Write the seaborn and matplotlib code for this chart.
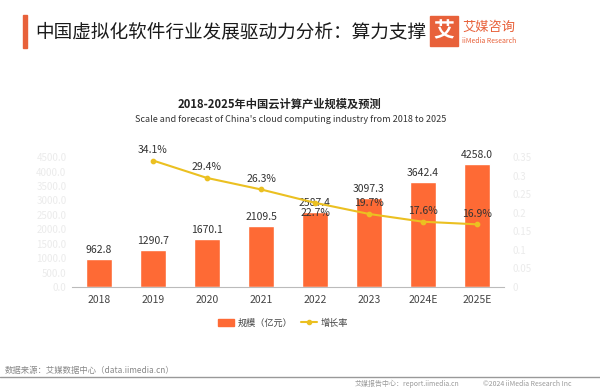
import pandas as pd
import seaborn as sns
import matplotlib.pyplot as plt
from matplotlib.patches import Patch, Rectangle
from matplotlib.lines import Line2D

years = ['2018', '2019', '2020', '2021', '2022', '2023', '2024E', '2025E']
scale = [962.8, 1290.7, 1670.1, 2109.5, 2587.4, 3097.3, 3642.4, 4258.0]
growth = [None, 0.341, 0.294, 0.263, 0.227, 0.197, 0.176, 0.169]

orange = '#FE6A35'
yellow = '#EBC021'
faint = '#ebebeb'

sns.set_style('white')
plt.rcParams['font.family'] = ['Noto Sans CJK SC', 'DejaVu Sans']

data = pd.DataFrame({'year': years, 'scale': scale, 'growth': growth})

fig = plt.figure(figsize=(6, 3.9), dpi=100)
ax = fig.add_axes([0.12, 0.264, 0.72, 0.333])

sns.barplot(data=data, x='year', y='scale', order=years, color=orange,
            width=0.48, saturation=1, ax=ax)
ax.set_ylim(0, 4500)
ax.set_yticks([i * 500 for i in range(10)])
ax.set_yticklabels([f'{i * 500:.1f}' for i in range(10)], color=faint, fontsize=7)
ax.tick_params(axis='x', labelsize=7.5, colors='#444444', length=0, pad=6)
ax.tick_params(axis='y', length=0, pad=4)
ax.set_xlabel('')
ax.set_ylabel('')
for s in ['top', 'right', 'left']:
    ax.spines[s].set_visible(False)
ax.spines['bottom'].set_color('#bbbbbb')

for i, v in enumerate(scale):
    ax.text(i, v + 140, f'{v:.1f}', ha='center', va='bottom', fontsize=7.5, color='#333333')

ax2 = ax.twinx()
line_data = data.dropna()
sns.pointplot(data=line_data, x='year', y='growth', order=years, color=yellow,
              markers='o', markersize=3, linewidth=1.5, errorbar=None, ax=ax2)
ax2.set_ylim(0, 0.35)
ax2.set_yticks([0, 0.05, 0.1, 0.15, 0.2, 0.25, 0.3, 0.35])
ax2.set_yticklabels(['0', '0.05', '0.1', '0.15', '0.2', '0.25', '0.3', '0.35'],
                    color=faint, fontsize=7)
ax2.tick_params(axis='y', length=0, pad=6)
ax2.set_ylabel('')
ax2.set_xlabel('')
for s in ax2.spines.values():
    s.set_visible(False)
ax2.set_xlim(-0.5, 7.5)

for i, g in enumerate(growth):
    if g is None:
        continue
    # 2022 label sits under the point to avoid the bar label
    if years[i] == '2022':
        ax2.annotate(f'{g * 100:.1f}%', (i, g), xytext=(0, -4), textcoords='offset points',
                     ha='center', va='top', fontsize=7.5, color='#333333')
    else:
        ax2.annotate(f'{g * 100:.1f}%', (i, g), xytext=(0, 4), textcoords='offset points',
                     ha='center', va='bottom', fontsize=7.5, color='#333333')

handles = [Patch(color=orange), Line2D([0], [0], color=yellow, marker='o', markersize=3, lw=1.5)]
fig.legend(handles, ['规模（亿元）', '增长率'], loc='center', bbox_to_anchor=(283 / 600, 0.172),
           ncol=2, frameon=False, fontsize=6.6, handlelength=1.7, handleheight=0.8,
           handletextpad=0.4, columnspacing=1.0, labelcolor='#444444')

# chart titles
fig.text(279 / 600, 1 - 104 / 390, '2018-2025年中国云计算产业规模及预测', ha='center', va='center',
         fontsize=8.1, fontweight='bold', color='#222222')
fig.text(291 / 600, 1 - 120 / 390, "Scale and forecast of China's cloud computing industry from 2018 to 2025",
         ha='center', va='center', fontsize=6.5, color='#333333')

# header
fig.patches.append(Rectangle((23 / 600, 1 - 48 / 390), 4 / 600, 33 / 390, transform=fig.transFigure,
                             color='#E8613A', zorder=3))
fig.text(35 / 600, 1 - 32 / 390, '中国虚拟化软件行业发展驱动力分析：算力支撑', ha='left', va='center',
         fontsize=13.4, fontweight='medium', color='#1a1a1a')
fig.patches.append(Rectangle((430 / 600, 1 - 46 / 390), 28 / 600, 30 / 390, transform=fig.transFigure,
                             color='#E8613A', zorder=3))
fig.text(444 / 600, 1 - 31 / 390, '艾', ha='center', va='center', fontsize=15,
         fontweight='bold', color='white')
fig.text(462 / 600, 1 - 27 / 390, '艾媒咨询', ha='left', va='center', fontsize=9.5, color='#E8613A')
fig.text(462 / 600, 1 - 41 / 390, 'iiMedia Research', ha='left', va='center', fontsize=5, color='#E8613A')

# footer
fig.text(5 / 600, 1 - 371 / 390, '数据来源：艾媒数据中心（data.iimedia.cn）', ha='left', va='center',
         fontsize=6, color='#888888')
fig.add_artist(Line2D([0, 1], [1 - 377 / 390, 1 - 377 / 390], transform=fig.transFigure,
                      color='#999999', lw=1))
fig.text(355 / 600, 1 - 384 / 390, '艾媒报告中心：report.iimedia.cn', ha='left', va='center',
         fontsize=5, color='#999999')
fig.text(483 / 600, 1 - 384 / 390, '©2024 iiMedia Research Inc', ha='left', va='center',
         fontsize=5, color='#999999')

fig.savefig('out.png', dpi=100)
